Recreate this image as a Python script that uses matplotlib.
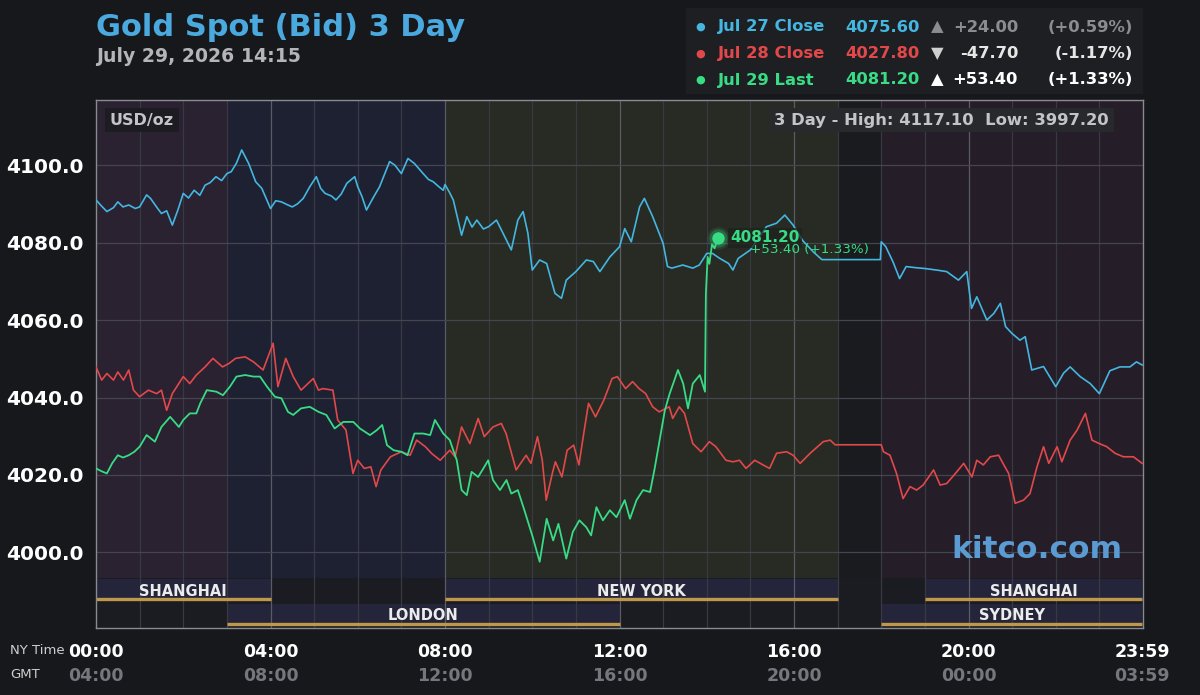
import numpy as np
import matplotlib.pyplot as plt
import matplotlib.transforms as mtransforms
from matplotlib.patches import Rectangle

# Jul 27 close curve (NY time in hours, USD/oz)
jul27_t = [0.00, 0.12, 0.25, 0.40, 0.50, 0.62, 0.75, 0.90, 1.00, 1.16, 1.25, 1.40, 1.50, 1.62, 1.75, 1.88,
           2.00, 2.12, 2.25, 2.38, 2.50, 2.62, 2.75, 2.88, 3.00, 3.10, 3.22, 3.34, 3.50, 3.66, 3.80, 4.00,
           4.12, 4.25, 4.38, 4.50, 4.62, 4.75, 4.90, 5.05, 5.15, 5.25, 5.40, 5.50, 5.62, 5.75, 5.93, 6.00,
           6.10, 6.20, 6.35, 6.50, 6.73, 6.85, 7.00, 7.15, 7.30, 7.50, 7.62, 7.73, 7.85, 7.96, 8.00, 8.10,
           8.19, 8.38, 8.50, 8.62, 8.73, 8.88, 9.00, 9.18, 9.33, 9.52, 9.67, 9.79, 9.90, 10.00, 10.17, 10.33,
           10.52, 10.67, 10.78, 11.00, 11.24, 11.40, 11.55, 11.78, 12.00, 12.12, 12.27, 12.46, 12.57, 12.76,
           13.00, 13.10, 13.20, 13.45, 13.68, 13.83, 14.00, 14.13, 14.30, 14.50, 14.60, 14.72, 15.00, 15.37,
           15.60, 15.79, 15.98, 16.20, 16.45, 16.64, 17.00, 17.98, 18.00, 18.10, 18.27, 18.42, 18.57, 18.80,
           19.00, 19.27, 19.50, 19.77, 19.96, 20.07, 20.19, 20.42, 20.58, 20.73, 20.85, 21.00, 21.18, 21.30,
           21.45, 21.72, 22.00, 22.18, 22.33, 22.56, 22.79, 23.00, 23.24, 23.47, 23.70, 23.85, 23.98]
jul27_p = [4091.0, 4089.5, 4088.0, 4089.0, 4090.5, 4089.2, 4089.7, 4088.8, 4089.2, 4092.3, 4091.4, 4089.0,
           4087.5, 4088.2, 4084.5, 4088.5, 4092.7, 4091.5, 4093.5, 4092.2, 4094.8, 4095.5, 4097.0, 4096.0,
           4097.8, 4098.3, 4100.5, 4103.9, 4100.4, 4095.7, 4094.0, 4088.8, 4090.8, 4090.5, 4089.8, 4089.2,
           4090.0, 4091.4, 4094.4, 4097.0, 4094.0, 4092.7, 4092.0, 4091.0, 4092.5, 4095.3, 4097.0, 4094.4,
           4091.8, 4088.4, 4091.5, 4094.4, 4100.9, 4100.0, 4097.8, 4101.7, 4100.4, 4097.8, 4096.3, 4095.7,
           4094.5, 4093.5, 4095.0, 4093.0, 4091.0, 4081.9, 4086.7, 4084.0, 4085.8, 4083.5, 4084.1, 4085.8,
           4082.4, 4078.1, 4085.8, 4088.0, 4082.4, 4072.9, 4075.5, 4074.6, 4066.9, 4065.6, 4070.3, 4072.5,
           4075.5, 4075.1, 4072.5, 4076.3, 4078.9, 4083.6, 4080.2, 4089.2, 4091.4, 4086.7, 4079.8, 4073.8,
           4073.4, 4074.2, 4073.4, 4074.2, 4077.2, 4077.2, 4075.9, 4074.6, 4072.9, 4075.9, 4078.1, 4084.1,
           4085.0, 4087.1, 4084.5, 4080.5, 4077.5, 4075.6, 4075.6, 4075.6, 4080.2, 4079.0, 4075.0, 4070.7,
           4073.8, 4073.5, 4073.3, 4072.9, 4072.5, 4070.3, 4072.5, 4063.0, 4066.0, 4060.0, 4061.7, 4064.3,
           4058.3, 4056.5, 4054.8, 4055.7, 4047.1, 4048.0, 4042.8, 4046.3, 4047.9, 4045.4, 4043.6, 4041.0,
           4046.9, 4047.9, 4047.9, 4049.2, 4048.4]

# Jul 28 close curve
jul28_t = [0.00, 0.13, 0.25, 0.40, 0.50, 0.63, 0.75, 0.86, 1.00, 1.20, 1.39, 1.50, 1.62, 1.75, 2.00, 2.15,
           2.30, 2.50, 2.68, 2.90, 3.05, 3.20, 3.42, 3.61, 3.83, 4.06, 4.17, 4.35, 4.52, 4.70, 4.82, 4.98,
           5.10, 5.20, 5.43, 5.54, 5.73, 5.89, 6.00, 6.15, 6.30, 6.42, 6.53, 6.75, 7.00, 7.20, 7.35, 7.55,
           7.70, 7.89, 8.11, 8.23, 8.38, 8.57, 8.76, 8.90, 9.10, 9.29, 9.40, 9.63, 9.86, 9.97, 10.12, 10.23,
           10.32, 10.46, 10.53, 10.68, 10.80, 10.95, 11.07, 11.18, 11.29, 11.45, 11.64, 11.83, 11.95, 12.14,
           12.30, 12.45, 12.60, 12.76, 12.91, 13.14, 13.22, 13.37, 13.49, 13.68, 13.87, 14.06, 14.21, 14.44,
           14.60, 14.75, 14.90, 15.10, 15.29, 15.44, 15.60, 15.83, 15.98, 16.14, 16.37, 16.67, 16.83, 16.94,
           18.00, 18.05, 18.20, 18.35, 18.50, 18.66, 18.81, 18.96, 19.20, 19.35, 19.50, 19.70, 19.89, 20.08,
           20.19, 20.34, 20.50, 20.69, 20.81, 20.92, 21.07, 21.26, 21.41, 21.57, 21.72, 21.84, 22.03, 22.14,
           22.33, 22.49, 22.68, 22.83, 23.00, 23.17, 23.36, 23.55, 23.78, 23.98]
jul28_p = [4047.9, 4044.5, 4046.2, 4044.5, 4046.6, 4044.5, 4047.1, 4041.9, 4040.2, 4041.9, 4041.0, 4041.9,
           4036.7, 4041.0, 4045.4, 4043.6, 4045.8, 4047.9, 4050.1, 4047.9, 4048.8, 4050.1, 4050.5, 4049.2,
           4047.1, 4054.0, 4042.8, 4050.1, 4045.4, 4041.9, 4043.2, 4044.9, 4041.9, 4042.3, 4041.9, 4034.2,
           4031.6, 4020.4, 4023.8, 4021.7, 4022.1, 4017.0, 4021.3, 4024.7, 4026.0, 4025.1, 4029.0, 4027.3,
           4025.5, 4023.8, 4026.4, 4024.7, 4032.4, 4028.1, 4034.6, 4029.9, 4032.4, 4033.3, 4030.7, 4021.3,
           4025.1, 4023.0, 4029.9, 4023.8, 4013.5, 4020.4, 4023.4, 4019.5, 4026.4, 4027.7, 4022.6, 4030.7,
           4038.5, 4035.0, 4039.3, 4044.9, 4045.4, 4042.3, 4044.1, 4042.3, 4041.0, 4037.6, 4036.3, 4037.6,
           4034.6, 4037.6, 4035.9, 4028.1, 4026.0, 4028.6, 4027.3, 4023.8, 4023.4, 4023.8, 4021.7, 4023.8,
           4022.6, 4021.7, 4025.6, 4026.0, 4025.1, 4023.0, 4025.6, 4028.6, 4029.0, 4027.8, 4027.8, 4026.0,
           4025.1, 4020.4, 4013.9, 4017.0, 4016.1, 4017.4, 4021.3, 4017.4, 4017.8, 4020.4, 4023.0, 4019.5,
           4023.8, 4022.6, 4024.7, 4025.1, 4022.6, 4020.4, 4012.7, 4013.5, 4015.2, 4022.1, 4027.3, 4023.0,
           4027.3, 4023.4, 4029.0, 4031.6, 4035.9, 4029.0, 4028.1, 4027.3, 4025.6, 4024.7, 4024.7, 4023.0]

# Jul 29 (today) curve, up to 14:15
jul29_t = [0.00, 0.12, 0.25, 0.37, 0.50, 0.62, 0.75, 0.88, 1.00, 1.16, 1.35, 1.50, 1.70, 1.90, 2.00, 2.15,
           2.30, 2.39, 2.54, 2.76, 2.91, 3.07, 3.22, 3.42, 3.61, 3.76, 3.92, 4.10, 4.25, 4.40, 4.52, 4.70,
           4.90, 5.10, 5.28, 5.47, 5.67, 5.90, 6.05, 6.28, 6.44, 6.56, 6.67, 6.82, 7.00, 7.14, 7.30, 7.50,
           7.66, 7.77, 7.96, 8.11, 8.27, 8.38, 8.50, 8.61, 8.76, 8.88, 8.99, 9.10, 9.26, 9.41, 9.52, 9.67,
           9.82, 10.01, 10.17, 10.33, 10.48, 10.60, 10.78, 10.93, 11.08, 11.24, 11.35, 11.47, 11.62, 11.78,
           11.93, 12.12, 12.24, 12.39, 12.54, 12.70, 12.80, 12.92, 13.04, 13.15, 13.34, 13.46, 13.57, 13.68,
           13.84, 13.96, 13.98, 14.02, 14.06, 14.12, 14.18, 14.25]
jul29_p = [4021.7, 4021.0, 4020.4, 4023.0, 4025.1, 4024.5, 4025.1, 4026.0, 4027.3, 4030.3, 4028.6, 4032.4,
           4035.0, 4032.4, 4034.2, 4035.9, 4035.9, 4038.5, 4041.9, 4041.5, 4040.6, 4042.8, 4045.4, 4045.8,
           4045.4, 4045.4, 4042.8, 4040.2, 4039.8, 4036.3, 4035.5, 4037.2, 4037.6, 4036.3, 4035.5, 4032.0,
           4033.7, 4033.7, 4032.0, 4030.3, 4031.6, 4032.9, 4027.7, 4026.4, 4026.0, 4025.1, 4030.7, 4030.7,
           4030.3, 4034.2, 4030.7, 4029.0, 4023.8, 4016.1, 4014.8, 4020.8, 4019.5, 4021.7, 4023.8, 4018.7,
           4016.1, 4018.7, 4015.2, 4016.1, 4010.9, 4004.0, 3997.6, 4008.7, 4003.1, 4007.4, 3998.4, 4005.3,
           4008.3, 4006.5, 4004.4, 4011.7, 4008.3, 4010.9, 4009.1, 4013.5, 4008.7, 4013.5, 4016.1, 4015.6,
           4021.3, 4029.0, 4036.7, 4041.0, 4047.1, 4043.6, 4037.2, 4043.6, 4045.8, 4041.5, 4066.9, 4076.3,
           4074.5, 4079.5, 4078.5, 4081.2]

price_ticks = [4000, 4020, 4040, 4060, 4080, 4100]
ny_ticks = [0, 4, 8, 12, 16, 20, 23.983]
ny_labels = ['00:00', '04:00', '08:00', '12:00', '16:00', '20:00', '23:59']
gmt_labels = ['04:00', '08:00', '12:00', '16:00', '20:00', '00:00', '03:59']

# sessions (NY hours)
top_sessions = [('SHANGHAI', 0, 4), ('NEW YORK', 8, 17), ('SHANGHAI', 19, 23.983)]
bottom_sessions = [('LONDON', 3, 12), ('SYDNEY', 18, 23.983)]
shade_spans = [(0, 3), (3, 8), (8, 17), (17, 18), (18, 24)]
shade_colors = ['#2a2131', '#1e2132', '#272b23', '#1a1b1e', '#251e29']

legend_rows = [('Jul 27 Close', '4075.60', '▲', '+24.00', '(+0.59%)'),
               ('Jul 28 Close', '4027.80', '▼', '-47.70', '(-1.17%)'),
               ('Jul 29 Last', '4081.20', '▲', '+53.40', '(+1.33%)')]

BG = '#17181c'
BLUE = '#44b6e0'
RED = '#e2484a'
GREEN = '#37dc85'
W, H = 1200, 695


def fx(px):
    return px / W


def fy(py):
    return 1 - py / H


fig = plt.figure(figsize=(12, 6.95), dpi=100, facecolor=BG)
ax = fig.add_axes([fx(96), fy(628), fx(1047), 528 / H])
ax.set_facecolor('#1b1c21')
ax.set_xlim(0, 24)
ax.set_ylim(3980.5, 4116.8)

band_top = 50 / 528  # session band area height (axes fraction)
for (a, b), c in zip(shade_spans, shade_colors):
    ax.axvspan(a, b, ymin=band_top, ymax=1, color=c, lw=0, zorder=0)

trans = mtransforms.blended_transform_factory(ax.transData, ax.transAxes)

# session bands
rows = [(top_sessions, 27 / 528, 49 / 528, 29.5 / 528, 37 / 528),
        (bottom_sessions, 2 / 528, 24 / 528, 4.5 / 528, 12 / 528)]
for sess, y0, y1, gold_y, text_y in rows:
    for name, a, b in sess:
        ax.add_patch(Rectangle((a, y0), b - a, y1 - y0, transform=trans,
                               facecolor='#24253a', lw=0, zorder=1))
        ax.plot([a, b], [gold_y, gold_y], transform=trans, color='#bf984c', lw=2.4,
                solid_capstyle='butt', zorder=2)
        ax.text((a + b) / 2, text_y, name, transform=trans, ha='center', va='center',
                color='#ececec', fontsize=10.5, fontweight='bold', zorder=3)

# grid
for h in range(1, 24):
    col = '#5a5b64' if h % 4 == 0 else '#383942'
    ax.axvline(h, color=col, lw=0.9, zorder=1.5)
for p in price_ticks:
    ax.axhline(p, color='#44454e', lw=0.9, zorder=1.5)

ax.plot(jul27_t, jul27_p, color=BLUE, lw=1.2, zorder=4)
ax.plot(jul28_t, jul28_p, color=RED, lw=1.2, zorder=4)
ax.plot(jul29_t, jul29_p, color=GREEN, lw=1.3, zorder=5)

# last price marker
lt, lp = jul29_t[-1], jul29_p[-1]
for s, a in [(260, 0.12), (170, 0.25), (80, 1.0)]:
    ax.scatter([lt], [lp], s=s, color=GREEN, alpha=a, lw=0, zorder=6)
ax.text(lt + 0.3, lp, f'{lp:.2f}', color=GREEN, fontsize=11, fontweight='bold',
        va='center', ha='left', zorder=7,
        bbox=dict(boxstyle='square,pad=0.15', fc='#1f221d', ec='none', alpha=0.75))
ax.text(lt + 0.75, lp - 3.0, '+53.40 (+1.33%)', color=GREEN, fontsize=9.7,
        va='center', ha='left', zorder=7)

for sp in ax.spines.values():
    sp.set_color('#8a8b90')
    sp.set_linewidth(1.0)

ax.set_yticks(price_ticks)
ax.set_yticklabels([f'{p:.1f}' for p in price_ticks])
ax.tick_params(axis='y', length=0, pad=9, labelsize=14.5, labelcolor='white')
for lbl in ax.get_yticklabels():
    lbl.set_fontweight('bold')
ax.set_xticks([])

for t, ny, gmt in zip(ny_ticks, ny_labels, gmt_labels):
    ax.text(t, -24 / 528, ny, transform=trans, ha='center', va='center',
            color='white', fontsize=12.5, fontweight='bold')
    ax.text(t, -48 / 528, gmt, transform=trans, ha='center', va='center',
            color='#76777c', fontsize=12.5, fontweight='bold')
fig.text(fx(10), fy(650), 'NY Time', color='#cfcfcf', fontsize=9.5, va='center')
fig.text(fx(10), fy(674), 'GMT', color='#cfcfcf', fontsize=9.5, va='center')

# header
fig.text(fx(96), fy(28), 'Gold Spot (Bid) 3 Day', color='#4aa9de', fontsize=22,
         fontweight='bold', va='center')
fig.text(fx(96), fy(57), 'July 29, 2026 14:15', color='#b5b5b8', fontsize=13.6,
         fontweight='bold', va='center')

fig.patches.append(Rectangle((fx(686), fy(94)), fx(1143 - 686), 86 / H,
                             transform=fig.transFigure, facecolor='#1e1f23', lw=0))
legend_colors = [BLUE, RED, GREEN]
chg_colors = ['#8c8c90', '#e6e6e6', '#ffffff']
arrow_colors = ['#8c8c90', '#d0d0d0', '#ffffff']
for i, (lab, val, arr, chg, pct) in enumerate(legend_rows):
    y = fy(27 + i * 26.5)
    c = legend_colors[i]
    fig.text(fx(700), y, '●', color=c, fontsize=8, va='center', ha='center')
    fig.text(fx(718), y, lab, color=c, fontsize=11.8, fontweight='bold', va='center')
    fig.text(fx(845), y, val, color=c, fontsize=11.8, fontweight='bold', va='center')
    fig.text(fx(937), y, arr, color=arrow_colors[i], fontsize=11.8, va='center', ha='center')
    fig.text(fx(1018), y, chg, color=chg_colors[i], fontsize=11.8, fontweight='bold',
             va='center', ha='right')
    fig.text(fx(1133), y, pct, color=chg_colors[i], fontsize=11.8, fontweight='bold',
             va='center', ha='right')

ax.text(0.013, 0.962, 'USD/oz', transform=ax.transAxes, color='#c4c4c8', fontsize=11.5,
        fontweight='bold', va='center', ha='left',
        bbox=dict(boxstyle='square,pad=0.3', fc='#1c1c22', ec='none'))
ax.text(0.648, 0.962, '3 Day - High: 4117.10  Low: 3997.20', transform=ax.transAxes,
        color='#c4c4c8', fontsize=11.8, fontweight='bold', va='center', ha='left',
        bbox=dict(boxstyle='square,pad=0.3', fc='#28292c', ec='none'))

ax.text(0.98, 0.1496, 'kitco.com', transform=ax.transAxes, color='#5b9bd3', fontsize=22.5,
        fontweight='bold', va='center', ha='right', zorder=3)

fig.savefig('out.png', dpi=100, facecolor=BG)
